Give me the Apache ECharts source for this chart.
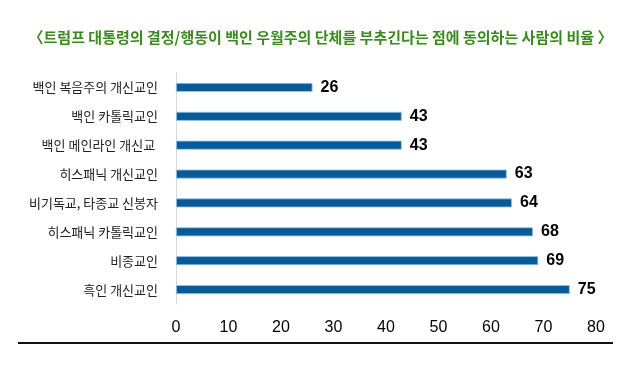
<!DOCTYPE html>
<html><head><meta charset="utf-8">
<script src="https://cdn.jsdelivr.net/npm/echarts@6/dist/echarts.min.js"></script>
<style>html,body{margin:0;padding:0;background:#fff}#c{width:641px;height:370px}</style>
</head><body><div id="c"></div>
<script>
var titleText = '〈트럼프 대통령의 결정/행동이 백인 우월주의 단체를 부추긴다는 점에 동의하는 사람의 비율 〉';
var categories = ['백인 복음주의 개신교인','백인 카톨릭교인','백인 메인라인 개신교 ','히스패닉 개신교인','비기독교, 타종교 신봉자','히스패닉 카톨릭교인','비종교인','흑인 개신교인'];
var values = [26, 43, 43, 63, 64, 68, 69, 75];
var xTicks = [0, 10, 20, 30, 40, 50, 60, 70, 80];

var chart = echarts.init(document.getElementById('c'));
chart.setOption({
  animation: false,
  title: {
    text: titleText, left: 'center', top: 25,
    textStyle: {color: '#3b8a1f', fontSize: 15, fontWeight: 'bold', fontFamily: 'Noto Sans CJK KR'}
  },
  grid: {left: 176, right: 45, top: 73, bottom: 66},
  xAxis: {
    type: 'value', min: 0, max: 80, interval: 10,
    axisLine: {show: false}, axisTick: {show: false}, splitLine: {show: false},
    axisLabel: {color: '#000', fontSize: 16, margin: 16, fontFamily: 'Liberation Sans Narrow, Arial Narrow, Liberation Sans',
      formatter: function (v) { return xTicks.indexOf(v) >= 0 ? String(v) : ''; }}
  },
  yAxis: {
    type: 'category', data: categories, inverse: true,
    axisLine: {show: true, lineStyle: {color: '#d9d9d9', width: 1}},
    axisTick: {show: false},
    axisLabel: {color: '#222', fontSize: 13, margin: 18, fontFamily: 'Noto Sans CJK KR'}
  },
  series: [{
    type: 'bar', data: values, barWidth: 9,
    itemStyle: {color: '#0b5a98', borderColor: '#9cc6e6', borderWidth: 0.8},
    label: {show: true, position: 'right', distance: 8, color: '#000', fontSize: 16, fontWeight: 'bold',
      fontFamily: 'Liberation Sans Narrow, Arial Narrow, Liberation Sans'}
  }],
  graphic: [{
    type: 'line', shape: {x1: 18, y1: 343, x2: 613, y2: 343},
    style: {stroke: '#111', lineWidth: 2}
  }]
});
</script></body></html>
